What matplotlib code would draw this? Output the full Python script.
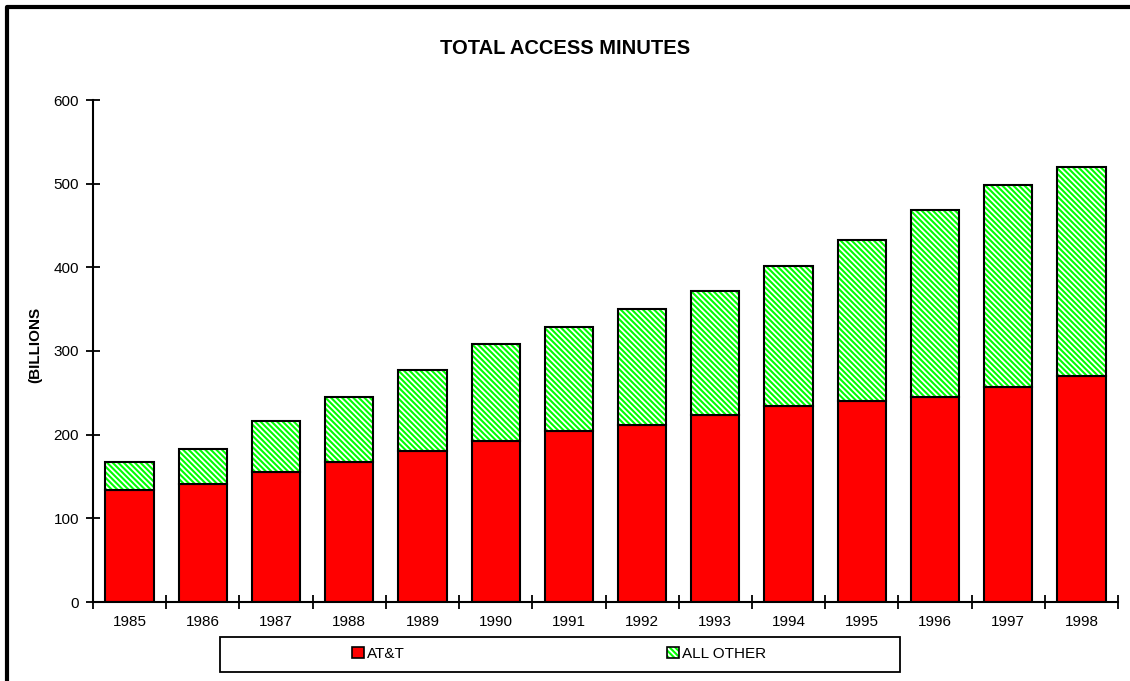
import matplotlib
matplotlib.use('Agg')
import matplotlib.pyplot as plt
from matplotlib.patches import Patch, Rectangle
from matplotlib.lines import Line2D
from matplotlib.ticker import FixedLocator

years = ['1985', '1986', '1987', '1988', '1989', '1990', '1991',
         '1992', '1993', '1994', '1995', '1996', '1997', '1998']
att = [134, 141, 155, 167, 180, 192, 204, 211, 223, 234, 240, 245, 257, 270]
total = [167, 183, 216, 245, 277, 308, 329, 350, 372, 402, 433, 468, 498, 520]
other = [t - a for t, a in zip(total, att)]

plt.rcParams['font.family'] = ['Liberation Sans', 'DejaVu Sans']
plt.rcParams['hatch.linewidth'] = 1.5

GREEN = '#00ff00'
RED = '#ff0000'
HATCH = '\\' * 6

fig = plt.figure(figsize=(11.3, 6.81), dpi=100)
ax = fig.add_axes([93 / 1130, 1 - 602 / 681, (1118 - 93) / 1130, (602 - 100) / 681])

x = list(range(len(years)))
w = 0.66

ax.bar(x, att, width=w, color=RED, edgecolor='black', linewidth=1.5, zorder=2)
# hatched part: green stripes first, black outline on top
ax.bar(x, other, bottom=att, width=w, color='white', edgecolor=GREEN,
       hatch=HATCH, linewidth=0, zorder=2)
ax.bar(x, other, bottom=att, width=w, fill=False, edgecolor='black',
       linewidth=1.5, zorder=3)

ax.set_xlim(-0.5, len(years) - 0.5)
ax.set_ylim(0, 600)
ax.set_yticks(range(0, 601, 100))
ax.set_xticks(x)
ax.set_xticklabels(years)
ax.xaxis.set_minor_locator(FixedLocator([i - 0.5 for i in range(len(years) + 1)]))

ax.tick_params(axis='x', which='major', length=0, pad=9, labelsize=11)
ax.tick_params(axis='x', which='minor', direction='inout', length=10, width=1.3)
ax.tick_params(axis='y', direction='inout', length=10, width=1.3, pad=5, labelsize=11)

for s in ['top', 'right']:
    ax.spines[s].set_visible(False)
for s in ['left', 'bottom']:
    ax.spines[s].set_linewidth(1.5)

fig.text(0.5, 1 - 48 / 681, 'TOTAL ACCESS MINUTES', ha='center', va='center',
         fontsize=14.5, fontweight='bold')
fig.text(35 / 1130, 1 - 345 / 681, '(BILLIONS', rotation=90, ha='center',
         va='center', fontsize=11, fontweight='bold')

# legend box
fig.patches.append(Rectangle((220 / 1130, 1 - 672 / 681), 680 / 1130, 35 / 681,
                             transform=fig.transFigure, fill=False,
                             edgecolor='black', linewidth=1.3))
h_att = Patch(facecolor=RED, edgecolor='black', linewidth=1.2)
h_oth = (Patch(facecolor='white', edgecolor=GREEN, hatch=HATCH, linewidth=0),
         Patch(fill=False, edgecolor='black', linewidth=1.2))
fig.legend([h_att, h_oth], ['AT&T', 'ALL OTHER'], loc='center',
           bbox_to_anchor=(559 / 1130, 1 - 654 / 681), ncol=2, frameon=False,
           fontsize=11, handlelength=0.75, handleheight=0.75, handletextpad=0.2,
           columnspacing=17.2)

# outer frame (top and left edges visible)
fig.add_artist(Line2D([6.5 / 1130, 6.5 / 1130, 1.0], [0.0, 1 - 6.5 / 681, 1 - 6.5 / 681],
                      transform=fig.transFigure, color='black', linewidth=3))

fig.savefig('out.png', dpi=100)
